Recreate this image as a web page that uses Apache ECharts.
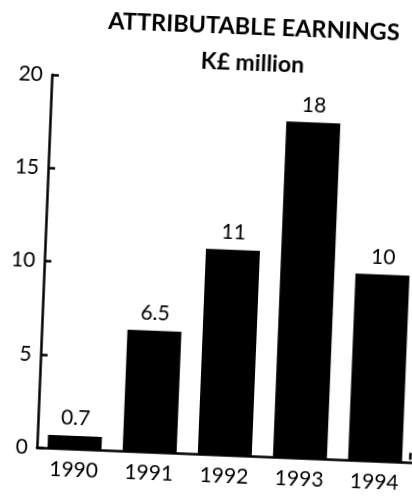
<!DOCTYPE html>
<html>
<head>
<meta charset="utf-8">
<script src="https://cdn.jsdelivr.net/npm/echarts@6/dist/echarts.min.js"></script>
<style>
  html, body { margin: 0; padding: 0; background: #fff; width: 412px; height: 498px; overflow: hidden; position: relative; }
  /* the printed page sits slightly askew */
  #chart {
    position: absolute; left: -14px; top: 0;
    width: 440px; height: 498px;
    transform-origin: 220px 249px;
    transform: rotate(2.3deg);
  }
</style>
</head>
<body>
<div id="chart"></div>
<script>
// Attributable earnings by year, K£ million
const years = ['1990', '1991', '1992', '1993', '1994'];
const earnings = [0.7, 6.5, 11, 18, 10];
const yTicks = [0, 5, 10, 15, 20];

const titleText = 'ATTRIBUTABLE EARNINGS';
const unitText = 'K£ million';

const FONT = 'Lato, "Open Sans", sans-serif';

const chart = echarts.init(document.getElementById('chart'), null, { renderer: 'canvas' });

chart.setOption({
  animation: false,
  backgroundColor: '#ffffff',
  title: [
    {
      text: titleText,
      left: 254, top: 8, textAlign: 'center',
      textStyle: { fontFamily: FONT, fontWeight: 'bold', fontSize: 23.5, color: '#000' }
    },
    {
      text: unitText,
      left: 254, top: 45, textAlign: 'center',
      textStyle: { fontFamily: FONT, fontWeight: 'bold', fontSize: 23, color: '#000' }
    }
  ],
  grid: { left: 59, right: 5, top: 81, bottom: 44, containLabel: false },
  xAxis: {
    type: 'category',
    data: years,
    axisLine: { lineStyle: { color: '#000', width: 2.5 } },
    axisTick: { show: false },
    axisLabel: { fontFamily: FONT, fontSize: 21, color: '#000', margin: 11 }
  },
  yAxis: {
    type: 'value',
    min: yTicks[0],
    max: yTicks[yTicks.length - 1],
    interval: 5,
    splitLine: { show: false },
    axisLine: { show: true, lineStyle: { color: '#000', width: 2.5 } },
    axisTick: { show: true, inside: true, length: 7, lineStyle: { color: '#000', width: 2.5 } },
    axisLabel: { fontFamily: FONT, fontSize: 21, color: '#000', margin: 9 }
  },
  // short upturn closing the right end of the baseline
  graphic: [{
    type: 'line',
    right: 5,
    bottom: 44,
    shape: { x1: 0, y1: 0, x2: 0, y2: 7 },
    style: { stroke: '#000', lineWidth: 2.5 }
  }],
  series: [{
    type: 'bar',
    data: earnings,
    barWidth: 54,
    itemStyle: { color: '#000' },
    label: {
      show: true,
      position: 'top',
      distance: 7,
      fontFamily: FONT,
      fontSize: 21,
      color: '#000'
    }
  }]
});
</script>
</body>
</html>
